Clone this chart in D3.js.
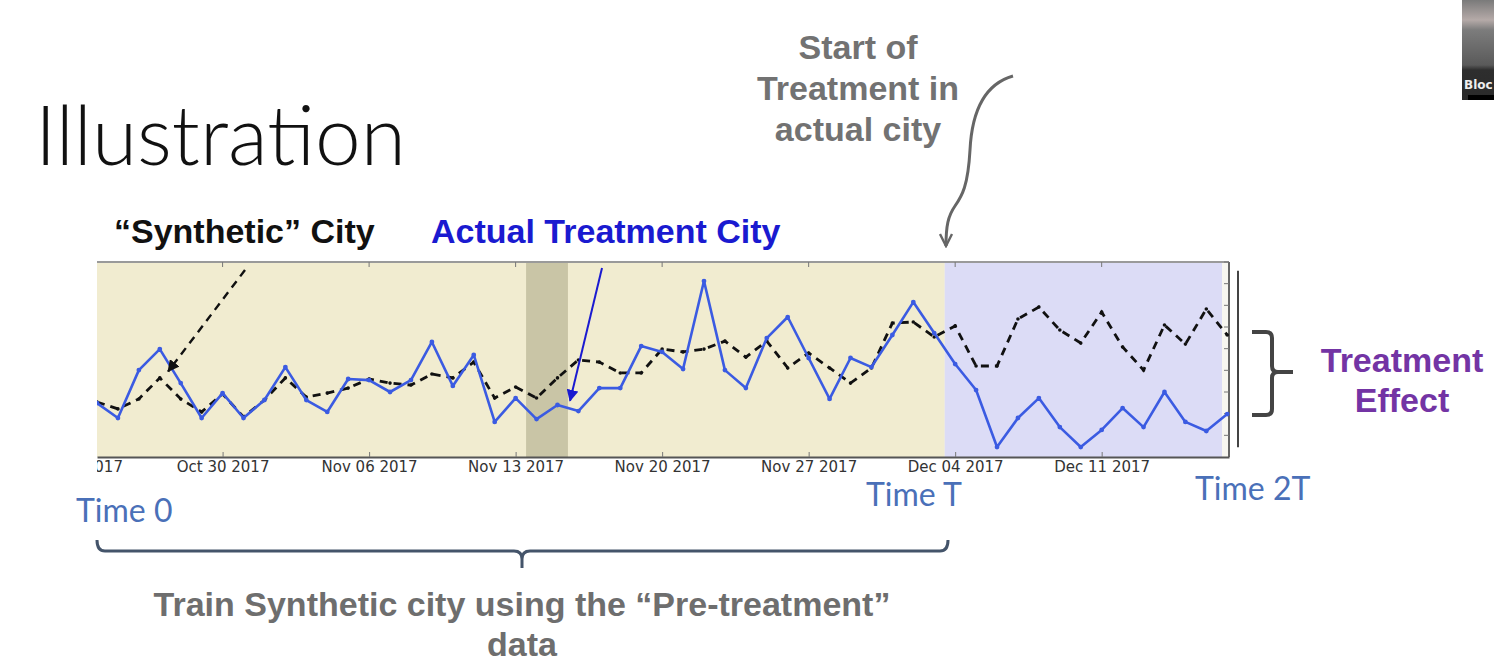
<!DOCTYPE html>
<html>
<head>
<meta charset="utf-8">
<script src="https://cdn.jsdelivr.net/npm/d3@7"></script>
<style>
  body { margin: 0; background: #fff; }
  svg { display: block; }
</style>
</head>
<body>
<div id="chart"></div>
<script>
// ---- data (daily values, arbitrary units) ----
const startDay = Date.UTC(2017, 9, 24)   // Oct 24 2017
const dayMs = 24 * 3600 * 1000

const actualCity = [2.49, 1.80, 4.01, 4.98, 3.41, 1.80, 2.95, 1.80, 2.63, 4.15,
    2.63, 2.08, 3.60, 3.55, 3.00, 3.55, 5.31, 3.28, 4.71, 1.62,
    2.72, 1.75, 2.40, 2.12, 3.18, 3.18, 5.12, 4.85, 4.06, 8.12,
    4.01, 3.18, 5.49, 6.46, 4.57, 2.68, 4.57, 4.15, 5.63, 7.15,
    5.72, 4.29, 3.09, 0.46, 1.80, 2.72, 1.38, 0.46, 1.25, 2.26,
    1.38, 3.00, 1.62, 1.20, 1.98]

const syntheticCity = [2.54, 2.22, 2.68, 3.65, 2.68, 2.08, 2.91, 1.85, 2.63, 3.65,
    2.77, 2.95, 3.18, 3.60, 3.41, 3.32, 3.83, 3.65, 4.38, 2.72,
    3.23, 2.72, 3.65, 4.48, 4.38, 3.88, 3.88, 4.98, 4.85, 4.98,
    5.35, 4.61, 5.35, 4.11, 4.80, 4.11, 3.41, 4.11, 6.18, 6.23,
    5.54, 6.05, 4.20, 4.20, 6.37, 6.92, 5.86, 5.26, 6.69, 5.08,
    4.01, 6.09, 5.21, 6.83, 5.63]

// periods shaded behind the lines
const preTreatment = [Date.UTC(2017, 9, 24), Date.UTC(2017, 11, 3, 12)]
const postTreatment = [Date.UTC(2017, 11, 3, 12), Date.UTC(2017, 11, 16, 18)]
const grayBand = [Date.UTC(2017, 10, 13, 12), Date.UTC(2017, 10, 15, 12)]

// weekly ticks, Oct 23 .. Dec 11 (first one is cut by the crop of the slide)
const tickDates = d3.range(0, 8).map(i => new Date(Date.UTC(2017, 9, 23) + i * 7 * dayMs))
const yTicks = d3.range(0, 10)

const rows = actualCity.map((v, i) => ({
    date: new Date(startDay + i * dayMs),
    actual: v,
    synthetic: syntheticCity[i]
}))

// ---- canvas ----
const W = 1494, H = 670
const box = {left: 97, right: 1229, top: 262, bottom: 457}

const svg = d3.select("#chart").append("svg")
    .attr("width", W)
    .attr("height", H)

const x = d3.scaleUtc()
    .domain([new Date(startDay), new Date(Date.UTC(2017, 11, 17, 2))])
    .range([box.left, box.right])

const y = d3.scaleLinear().domain([0, 9]).range([box.bottom, box.top])

const defs = svg.append("defs")
defs.append("clipPath").attr("id", "crop")
    .append("rect")
    .attr("x", box.left).attr("y", box.top - 2)
    .attr("width", box.right - box.left + 3).attr("height", 240)

const plot = svg.append("g").attr("clip-path", "url(#crop)")

// backgrounds
plot.append("rect")
    .attr("x", box.left).attr("y", box.top)
    .attr("width", box.right - box.left).attr("height", box.bottom - box.top)
    .attr("fill", "#f7f6f0")
plot.append("rect")
    .attr("x", x(preTreatment[0])).attr("y", box.top)
    .attr("width", x(preTreatment[1]) - x(preTreatment[0])).attr("height", box.bottom - box.top)
    .attr("fill", "#f1ecd0")
plot.append("rect")
    .attr("x", x(postTreatment[0])).attr("y", box.top)
    .attr("width", x(postTreatment[1]) - x(postTreatment[0])).attr("height", box.bottom - box.top)
    .attr("fill", "#dcdcf6")
plot.append("rect")
    .attr("x", x(grayBand[0])).attr("y", box.top)
    .attr("width", x(grayBand[1]) - x(grayBand[0])).attr("height", box.bottom - box.top)
    .attr("fill", "#c9c5a6")

// spines
plot.append("line")
    .attr("x1", box.left).attr("x2", box.right)
    .attr("y1", box.top).attr("y2", box.top)
    .attr("stroke", "#9a9a9a").attr("stroke-width", 2)
plot.append("line")
    .attr("x1", box.right).attr("x2", box.right)
    .attr("y1", box.top).attr("y2", box.bottom)
    .attr("stroke", "#666").attr("stroke-width", 2)

// top ticks
plot.selectAll(".ttick")
    .data(tickDates)
    .enter()
    .append("line")
    .attr("x1", d => x(d)).attr("x2", d => x(d))
    .attr("y1", box.top).attr("y2", box.top + 5)
    .attr("stroke", "#777")

// right y ticks (inward)
plot.selectAll(".ytick")
    .data(yTicks.slice(1))
    .enter()
    .append("line")
    .attr("x1", box.right).attr("x2", box.right - 5)
    .attr("y1", d => y(d)).attr("y2", d => y(d))
    .attr("stroke", "#777")

// lines
const lineActual = d3.line().x(d => x(d.date)).y(d => y(d.actual))
const lineSynth = d3.line().x(d => x(d.date)).y(d => y(d.synthetic))

plot.append("path")
    .datum(rows)
    .attr("d", lineSynth)
    .attr("fill", "none")
    .attr("stroke", "#111")
    .attr("stroke-width", 2.8)
    .attr("stroke-dasharray", "8,6")

plot.selectAll(".sdot")
    .data(rows)
    .enter()
    .append("circle")
    .attr("cx", d => x(d.date)).attr("cy", d => y(d.synthetic))
    .attr("r", 1.8)
    .attr("fill", "#111")

plot.append("path")
    .datum(rows)
    .attr("d", lineActual)
    .attr("fill", "none")
    .attr("stroke", "#3b5be2")
    .attr("stroke-width", 2.6)
    .attr("stroke-linejoin", "round")

plot.selectAll(".adot")
    .data(rows)
    .enter()
    .append("circle")
    .attr("cx", d => x(d.date)).attr("cy", d => y(d.actual))
    .attr("r", 2.4)
    .attr("fill", "#3b5be2")

// x axis
const xAxis = d3.axisBottom(x)
    .tickValues(tickDates)
    .tickFormat(d3.utcFormat("%b %d %Y"))
    .tickSizeInner(-5)
    .tickSizeOuter(0)
    .tickPadding(4)

const axisG = svg.append("g")
    .attr("clip-path", "url(#crop)")
    .append("g")
    .attr("transform", "translate(0," + box.bottom + ")")
    .call(xAxis)

axisG.select(".domain").attr("stroke", "#555").attr("stroke-width", 2)
axisG.selectAll(".tick line").attr("stroke", "#777")
axisG.selectAll("text")
    .style("font-family", "DejaVu Sans")
    .style("font-size", "15px")
    .attr("fill", "#333")

// separate vertical bar right of the chart
svg.append("line")
    .attr("x1", 1238).attr("x2", 1238)
    .attr("y1", y(8.6)).attr("y2", y(0.45))
    .attr("stroke", "#444").attr("stroke-width", 2)

// ---- annotations ----
defs.append("marker").attr("id", "headBlack")
    .attr("viewBox", "0 0 10 10").attr("refX", 9).attr("refY", 5)
    .attr("markerWidth", 5).attr("markerHeight", 5).attr("orient", "auto")
    .append("path").attr("d", "M0,0 L10,5 L0,10 z").attr("fill", "#111")
defs.append("marker").attr("id", "headBlue")
    .attr("viewBox", "0 0 10 10").attr("refX", 9).attr("refY", 5)
    .attr("markerWidth", 6).attr("markerHeight", 6).attr("orient", "auto")
    .append("path").attr("d", "M0,0 L10,5 L0,10 z").attr("fill", "#1a1ad0")
defs.append("marker").attr("id", "headGray")
    .attr("viewBox", "0 0 10 10").attr("refX", 9).attr("refY", 5)
    .attr("markerWidth", 5).attr("markerHeight", 5).attr("orient", "auto")
    .append("path").attr("d", "M1,1 L9,5 L1,9").attr("fill", "none")
    .attr("stroke", "#666").attr("stroke-width", 1.6)

svg.append("line")
    .attr("x1", 245).attr("y1", 270)
    .attr("x2", x(new Date(startDay + 3.4 * dayMs))).attr("y2", y(3.95))
    .attr("stroke", "#111").attr("stroke-width", 2.4)
    .attr("stroke-dasharray", "8,6")
    .attr("marker-end", "url(#headBlack)")

svg.append("line")
    .attr("x1", 602).attr("y1", 268)
    .attr("x2", x(new Date(startDay + 22.6 * dayMs))).attr("y2", y(2.6))
    .attr("stroke", "#1a1ad0").attr("stroke-width", 2)
    .attr("marker-end", "url(#headBlue)")

svg.append("path")
    .attr("d", "M1013,76 C985,84 972,110 970,150 C968,186 962,196 955,206 C948,216 946,226 946,246")
    .attr("fill", "none")
    .attr("stroke", "#666").attr("stroke-width", 3)
    .attr("marker-end", "url(#headGray)")

// right brace
svg.append("path")
    .attr("d", "M1252,332 L1266,332 Q1272,332 1272,338 L1272,366 Q1272,372 1278,372 L1293,372 M1278,372 Q1272,372 1272,378 L1272,409 Q1272,415 1266,415 L1252,415")
    .attr("fill", "none").attr("stroke", "#444").attr("stroke-width", 4)

// bottom brace
svg.append("path")
    .attr("d", "M97,540 Q97,551 105,551 L514,551 Q522,551 522,559 L522,568 M522,559 Q522,551 530,551 L940,551 Q948,551 948,540")
    .attr("fill", "none").attr("stroke", "#44546a").attr("stroke-width", 3)

// texts
const bold = "'Liberation Sans', Arial, sans-serif"
const light = "Lato, 'Open Sans', sans-serif"
const boldSize = "34px"

svg.append("text")
    .attr("x", 35).attr("y", 165)
    .text("Illustration")
    .style("font-family", light).style("font-weight", 300).style("font-size", "82px")
    .attr("fill", "#111")

svg.append("text")
    .attr("x", 114).attr("y", 243)
    .text("“Synthetic” City")
    .style("font-family", bold).style("font-weight", "bold").style("font-size", boldSize)
    .attr("fill", "#111")

svg.append("text")
    .attr("x", 431).attr("y", 243)
    .text("Actual Treatment City")
    .style("font-family", bold).style("font-weight", "bold").style("font-size", boldSize)
    .attr("fill", "#1a1ad0")

const startLines = ["Start of", "Treatment in", "actual city"]
svg.selectAll(".startText")
    .data(startLines)
    .enter()
    .append("text")
    .attr("x", 858).attr("y", (d, i) => 59 + i * 41)
    .attr("text-anchor", "middle")
    .text(d => d)
    .style("font-family", bold).style("font-weight", "bold").style("font-size", boldSize)
    .attr("fill", "#727272")

const effectLines = ["Treatment", "Effect"]
svg.selectAll(".effectText")
    .data(effectLines)
    .enter()
    .append("text")
    .attr("x", 1402).attr("y", (d, i) => 372 + i * 40)
    .attr("text-anchor", "middle")
    .text(d => d)
    .style("font-family", bold).style("font-weight", "bold").style("font-size", boldSize)
    .attr("fill", "#7334a4")

const timeLabels = [
    {label: "Time 0", x: 76, y: 522},
    {label: "Time T", x: 866, y: 506},
    {label: "Time 2T", x: 1195, y: 500},
]
svg.selectAll(".timeText")
    .data(timeLabels)
    .enter()
    .append("text")
    .attr("x", d => d.x).attr("y", d => d.y)
    .text(d => d.label)
    .style("font-family", light).style("font-size", "32px")
    .attr("fill", "#4a70b8")

const trainLines = ["Train Synthetic city using the “Pre-treatment”", "data"]
svg.selectAll(".trainText")
    .data(trainLines)
    .enter()
    .append("text")
    .attr("x", 522).attr("y", (d, i) => 616 + i * 40)
    .attr("text-anchor", "middle")
    .text(d => d)
    .style("font-family", bold).style("font-weight", "bold").style("font-size", boldSize)
    .attr("fill", "#6e6e6e")

// webcam thumbnail in the corner
const cam = defs.append("linearGradient").attr("id", "camGrad")
    .attr("x1", 0).attr("x2", 0).attr("y1", 0).attr("y2", 1)
cam.append("stop").attr("offset", "0%").attr("stop-color", "#7a7a7a")
cam.append("stop").attr("offset", "20%").attr("stop-color", "#b5aaa8")
cam.append("stop").attr("offset", "30%").attr("stop-color", "#7c7c7c")
cam.append("stop").attr("offset", "65%").attr("stop-color", "#5a5a5a")
cam.append("stop").attr("offset", "70%").attr("stop-color", "#2e2e2e")
cam.append("stop").attr("offset", "100%").attr("stop-color", "#2a2a2a")
svg.append("rect")
    .attr("x", 1462).attr("y", 0).attr("width", 32).attr("height", 100)
    .attr("fill", "url(#camGrad)")
svg.append("rect")
    .attr("x", 1468).attr("y", 95).attr("width", 26).attr("height", 5)
    .attr("fill", "#000")
svg.append("text")
    .attr("x", 1464).attr("y", 89)
    .text("Bloc")
    .style("font-family", "'DejaVu Sans'").style("font-weight", "bold").style("font-size", "12px")
    .attr("fill", "#eee")
</script>
</body>
</html>
